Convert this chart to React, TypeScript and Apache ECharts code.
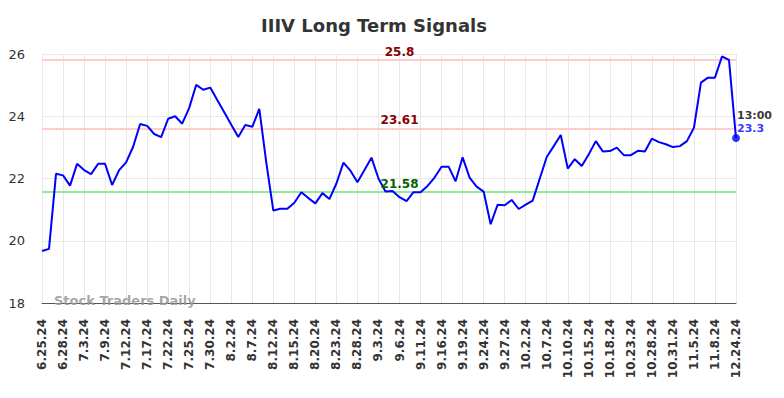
import React, { useEffect, useRef } from "react";
import * as echarts from "echarts";

const dates: string[] = [
  "6.25.24", "6.26.24", "6.27.24", "6.28.24", "7.1.24", "7.2.24", "7.3.24", "7.5.24", "7.8.24", "7.9.24",
  "7.10.24", "7.11.24", "7.12.24", "7.15.24", "7.16.24", "7.17.24", "7.18.24", "7.19.24", "7.22.24", "7.23.24",
  "7.24.24", "7.25.24", "7.26.24", "7.29.24", "7.30.24", "7.31.24", "8.1.24", "8.2.24", "8.5.24", "8.6.24",
  "8.7.24", "8.8.24", "8.9.24", "8.12.24", "8.13.24", "8.14.24", "8.15.24", "8.16.24", "8.19.24", "8.20.24",
  "8.21.24", "8.22.24", "8.23.24", "8.26.24", "8.27.24", "8.28.24", "8.29.24", "8.30.24", "9.3.24", "9.4.24",
  "9.5.24", "9.6.24", "9.9.24", "9.10.24", "9.11.24", "9.12.24", "9.13.24", "9.16.24", "9.17.24", "9.18.24",
  "9.19.24", "9.20.24", "9.23.24", "9.24.24", "9.25.24", "9.26.24", "9.27.24", "9.30.24", "10.1.24", "10.2.24",
  "10.3.24", "10.4.24", "10.7.24", "10.8.24", "10.9.24", "10.10.24", "10.11.24", "10.14.24", "10.15.24", "10.16.24",
  "10.17.24", "10.18.24", "10.21.24", "10.22.24", "10.23.24", "10.24.24", "10.25.24", "10.28.24", "10.29.24", "10.30.24",
  "10.31.24", "11.1.24", "11.4.24", "11.5.24", "11.6.24", "11.7.24", "11.8.24", "11.11.24", "11.12.24", "12.24.24",
];

const prices: number[] = [
  19.67, 19.74, 22.15, 22.10, 21.77, 22.47, 22.27, 22.14, 22.47, 22.47,
  21.79, 22.27, 22.52, 23.02, 23.75, 23.69, 23.43, 23.33, 23.92, 24.00,
  23.76, 24.27, 25.01, 24.85, 24.92, 24.52, 24.13, 23.73, 23.33, 23.72,
  23.66, 24.24, 22.50, 20.97, 21.03, 21.03, 21.22, 21.56, 21.37, 21.20,
  21.53, 21.34, 21.84, 22.51, 22.25, 21.88, 22.27, 22.67, 22.00, 21.58,
  21.60, 21.40, 21.27, 21.56, 21.56, 21.76, 22.03, 22.38, 22.38, 21.91,
  22.68, 22.03, 21.74, 21.58, 20.53, 21.16, 21.14, 21.31, 21.02, 21.16,
  21.29, 21.99, 22.69, 23.04, 23.40, 22.32, 22.62, 22.40, 22.78, 23.20,
  22.87, 22.88, 22.99, 22.75, 22.75, 22.89, 22.87, 23.28, 23.17, 23.10,
  23.01, 23.04, 23.20, 23.63, 25.08, 25.24, 25.24, 25.92, 25.81, 23.30,
];

const resistanceLevels: number[] = [25.8, 23.61];
const supportLevels: number[] = [21.58];
const levelLabelDate = "9.6.24";
const lastTimeLabel = "13:00";
const yTicks = { min: 18, max: 26, interval: 2 };

const FONT = "DejaVu Sans";

export default function App() {
  const ref = useRef<HTMLDivElement>(null);

  useEffect(() => {
    if (!ref.current) return;
    const chart = echarts.init(ref.current, undefined, { renderer: "svg" });
    const lastIdx = prices.length - 1;
    const lastVal = prices[lastIdx];

    const levelLines = [
      ...resistanceLevels.map((v) => ({ yAxis: v, lineStyle: { color: "#ffcccc", width: 2, type: "solid" as const } })),
      ...supportLevels.map((v) => ({ yAxis: v, lineStyle: { color: "#90ee90", width: 2, type: "solid" as const } })),
    ];
    const levelPoints = [
      ...resistanceLevels.map((v) => ({ coord: [levelLabelDate, v], label: { color: "#8b0000" }, value: v })),
      ...supportLevels.map((v) => ({ coord: [levelLabelDate, v], label: { color: "#006400" }, value: v })),
    ];

    chart.setOption({
      animation: false,
      backgroundColor: "#ffffff",
      textStyle: { fontFamily: FONT },
      title: {
        text: "IIIV Long Term Signals",
        left: 256,
        top: 11,
        textStyle: { fontFamily: FONT, fontSize: 18, fontWeight: "bold", color: "#333333" },
      },
      grid: { left: 42, right: 48, top: 54, bottom: 95 },
      xAxis: {
        type: "category",
        data: dates,
        boundaryGap: false,
        axisLine: { show: true, lineStyle: { color: "#555555", width: 1 } },
        axisTick: { show: false },
        axisLabel: {
          interval: 2,
          rotate: 90,
          margin: 16,
          fontFamily: FONT,
          fontSize: 12,
          fontWeight: "bold",
          color: "#333333",
        },
        splitLine: { show: true, interval: 2, lineStyle: { color: "#e8e8e8", width: 1 } },
      },
      yAxis: {
        type: "value",
        min: yTicks.min,
        max: yTicks.max,
        interval: yTicks.interval,
        axisLine: { show: false },
        axisTick: { show: false },
        axisLabel: { margin: 17, fontFamily: FONT, fontSize: 13, color: "#333333" },
        splitLine: { show: true, lineStyle: { color: "#e8e8e8", width: 1 } },
      },
      graphic: [
        {
          type: "text",
          left: 54,
          top: 294,
          z: 10,
          style: {
            text: "Stock Traders Daily",
            fontFamily: FONT,
            fontSize: 13,
            fontWeight: "bold",
            fill: "rgba(150,150,150,0.85)",
          },
        },
      ],
      series: [
        {
          type: "line",
          data: prices,
          showSymbol: false,
          lineStyle: { color: "#0000ff", width: 2 },
          itemStyle: { color: "#0000ff" },
          z: 3,
          markLine: {
            silent: true,
            symbol: "none",
            label: { show: false },
            z: 1,
            data: levelLines,
          },
          markPoint: {
            silent: true,
            symbol: "circle",
            symbolSize: 0,
            label: {
              show: true,
              position: "top",
              distance: 2,
              fontFamily: FONT,
              fontSize: 12,
              fontWeight: "bold",
              formatter: (p: any) => String(p.value),
            },
            data: levelPoints,
          },
        },
        {
          type: "scatter",
          data: [[dates[lastIdx], lastVal]],
          symbol: "circle",
          symbolSize: 8,
          itemStyle: { color: "#0000ff" },
          z: 5,
          label: {
            show: true,
            position: [5, -25],
            formatter: () => `{t|${lastTimeLabel}}\n{v|${lastVal}}`,
            rich: {
              t: { fontFamily: FONT, fontSize: 11, fontWeight: "bold", color: "#000000", lineHeight: 13 },
              v: { fontFamily: FONT, fontSize: 11, fontWeight: "bold", color: "#0000ff", lineHeight: 13 },
            },
          },
        },
      ],
    });
    return () => chart.dispose();
  }, []);

  return (
    <div
      ref={ref}
      style={{ position: "fixed", left: 0, top: 0, width: 784, height: 398 }}
    />
  );
}
